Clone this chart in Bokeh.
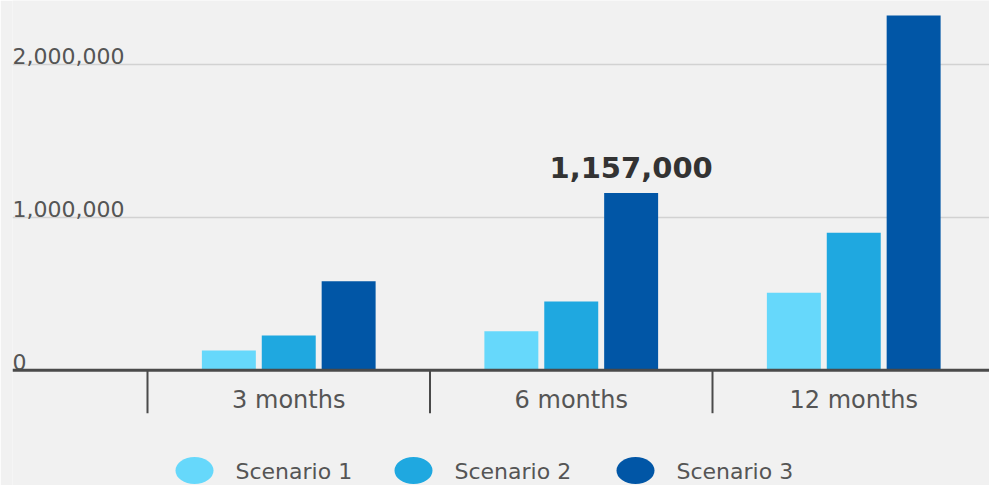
from bokeh.plotting import figure
from bokeh.models import ColumnDataSource, Range1d, Span, Grid, FixedTicker
from bokeh.transform import dodge
from bokeh.core.properties import value
from bokeh.embed import file_html
from bokeh.resources import INLINE

# ---------------- data ----------------
CATEGORIES = ["3 months", "6 months", "12 months"]
SERIES_NAMES = ["Scenario 1", "Scenario 2", "Scenario 3"]
SCENARIO_1 = [128000, 255000, 506000]
SCENARIO_2 = [227000, 449000, 898000]
SCENARIO_3 = [581000, 1157000, 2317000]
Y_TICKS = [0, 1000000, 2000000]
Y_TICK_LABELS = ["0", "1,000,000", "2,000,000"]
ANNOTATE_INDEX = 1  # 6 months, Scenario 3

# ---------------- style / layout ----------------
W, H = 989, 485
LEFT = 12
Y0_PX = 369.7          # screen y of the zero line
PX_PER_M = 153.1       # pixels per 1,000,000
CAT_PX = 282.5         # pixels per category
FIRST_BOUND_PX = 147   # screen x of first category boundary
BAR_W = 0.191
DODGE = 0.212
COLORS = ["#66d8fb", "#1fa8e0", "#0156a6"]
BG = "#f1f1f1"
AXIS_COLOR = "#4a4a4a"
GRID_COLOR = "#d2d2d2"
TEXT_COLOR = "#555555"
FONT = "DejaVu Sans"
TICK_LEN_PX = 43
LEGEND_PX_X = [194, 413, 635]
LEGEND_PY = 470

x_start = 0.5 - (FIRST_BOUND_PX - LEFT) / CAT_PX
x_end = x_start + (W - LEFT) / CAT_PX
y_start = -(H - Y0_PX) / PX_PER_M * 1e6
y_end = Y0_PX / PX_PER_M * 1e6


def px_x(px):
    return x_start + (px - LEFT) / CAT_PX


def px_y(py):
    return (Y0_PX - py) / PX_PER_M * 1e6


cat_x = [i + 1 for i in range(len(CATEGORIES))]

p = figure(width=W, height=H, output_backend="svg", toolbar_location=None,
           x_axis_type=None, y_axis_type=None,
           x_range=Range1d(x_start, x_end), y_range=Range1d(y_start, y_end),
           min_border_left=LEFT, min_border_right=0, min_border_top=0, min_border_bottom=0)
p.background_fill_color = BG
p.border_fill_color = BG
p.outline_line_color = None

# gridlines
grid = Grid(dimension=1, ticker=FixedTicker(ticks=[t for t in Y_TICKS if t != 0]),
            grid_line_color=GRID_COLOR, grid_line_width=1.5)
p.add_layout(grid)

# bars
src = ColumnDataSource(dict(x=cat_x, s1=SCENARIO_1, s2=SCENARIO_2, s3=SCENARIO_3))
for key, off, col in zip(["s1", "s2", "s3"], [-DODGE, 0, DODGE], COLORS):
    p.vbar(x=dodge("x", off, range=p.x_range), top=key, bottom=0, width=BAR_W,
           source=src, fill_color=col, line_color=None)

# zero axis line
p.add_layout(Span(location=0, dimension="width", line_color=AXIS_COLOR, line_width=3))

# category boundary ticks
bounds = [c - 0.5 for c in cat_x] + [cat_x[-1] + 0.5]
p.segment(x0=bounds, y0=[0] * len(bounds), x1=bounds,
          y1=[-TICK_LEN_PX / PX_PER_M * 1e6] * len(bounds),
          line_color=AXIS_COLOR, line_width=2)

# category labels
p.text(x=cat_x, y=[0] * len(cat_x), text=CATEGORIES, y_offset=30,
       text_align="center", text_baseline="alphabetic",
       text_font=value(FONT), text_font_size="24px", text_color=TEXT_COLOR)

# y tick labels (inside plot, above gridlines)
p.text(x=[x_start] * len(Y_TICKS), y=Y_TICKS, text=Y_TICK_LABELS, y_offset=-8,
       text_align="left", text_baseline="alphabetic",
       text_font=value(FONT), text_font_size="22px", text_color=TEXT_COLOR)

# annotation
ann = ColumnDataSource(dict(x=[cat_x[ANNOTATE_INDEX]], y=[SCENARIO_3[ANNOTATE_INDEX]],
                            t=[f"{SCENARIO_3[ANNOTATE_INDEX]:,}"]))
p.text(x=dodge("x", DODGE, range=p.x_range), y="y", text="t", source=ann, y_offset=-26,
       text_align="center", text_baseline="alphabetic",
       text_font=value(FONT), text_font_size="29px", text_font_style="bold",
       text_color="#333333")

# legend (drawn manually)
lx = [px_x(v) for v in LEGEND_PX_X]
ly = [px_y(LEGEND_PY)] * len(lx)
p.ellipse(x=lx, y=ly, width=38, height=27, width_units="screen", height_units="screen",
          fill_color=COLORS, line_color=None)
p.text(x=lx, y=ly, text=SERIES_NAMES, x_offset=41, y_offset=1,
       text_align="left", text_baseline="middle",
       text_font=value(FONT), text_font_size="22px", text_color=TEXT_COLOR)

open("out.html", "w").write(file_html(p, INLINE))
